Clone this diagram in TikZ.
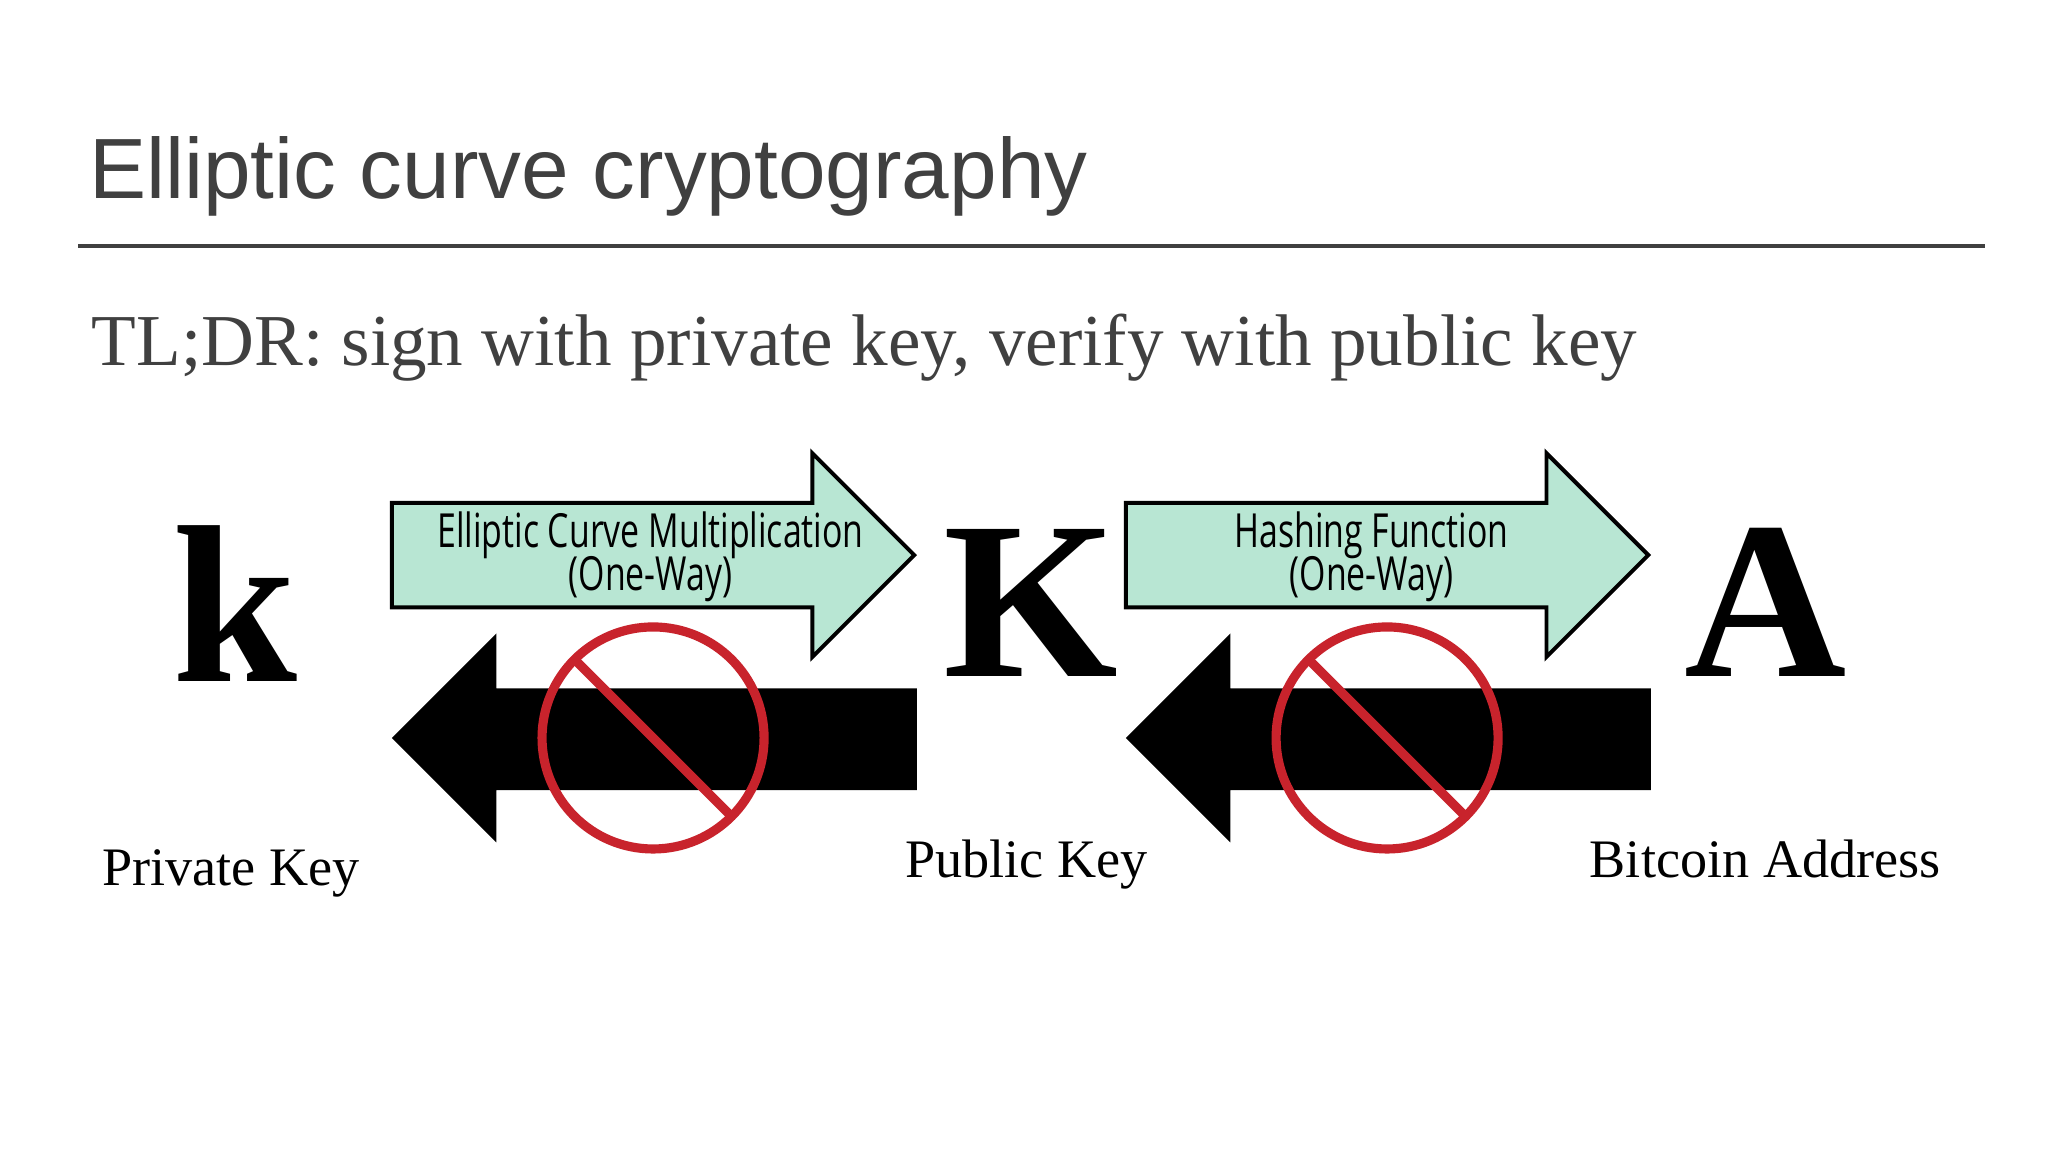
\documentclass[tikz,border=0pt]{standalone}
\usepackage{fontspec}
\setmainfont{Liberation Serif}
\newfontfamily\titlefont{Liberation Sans}
\newfontfamily\arrowfont{Open Sans}
\definecolor{ttl}{HTML}{404040}
\definecolor{mint}{HTML}{B8E6D3}
\definecolor{nored}{HTML}{C8232C}
\begin{document}
\begin{tikzpicture}[x=1pt,y=-1pt,
  bigletter/.style={anchor=base,inner sep=0,font=\bfseries\fontsize{172}{172}\selectfont},
  keylabel/.style={anchor=base west,inner sep=0,font=\fontsize{41.5}{42}\selectfont},
  garrow/.style={fill=mint,draw=black,line width=3pt,line join=miter},
  barrow/.style={fill=black},
  arrowtext/.style={align=center,inner sep=0,font=\arrowfont\fontsize{36}{36}\selectfont},
  nosign/.style={draw=nored,line width=7pt}]
\useasboundingbox (0,0) rectangle (1568,882);
\fill[white] (0,0) rectangle (1568,882);
\node[anchor=base west,inner sep=0,text=ttl,font=\titlefont\fontsize{65.5}{66}\selectfont] (title) at (68,152) {Elliptic curve cryptography};
\draw[ttl,line width=3pt] (60,188) -- (1520,188);
\node[anchor=base west,inner sep=0,text=ttl,font=\fontsize{56}{56}\selectfont] (sub) at (70,280) {TL;DR: sign with private key, verify with public key};
\node[bigletter] (k) at (180,522) {k};
\node[bigletter] (K) at (789,518) {K};
\node[bigletter] (A) at (1352,518) {A};
\foreach \x/\n in {0/one,562/two}{
  \begin{scope}[xshift=\x]
  \draw[garrow] (300,385) -- (622,385) -- (622,347) -- (700,425) -- (622,503) -- (622,465) -- (300,465) -- cycle;
  \fill[barrow] (702,527) -- (380,527) -- (380,485) -- (300,565) -- (380,645) -- (380,605) -- (702,605) -- cycle;
  \draw[nosign] (500,565) circle (85);
  \draw[nosign] (440,505) -- (560,625);
  \end{scope}}
\node[arrowtext] (t1) at (498,426) {\scalebox{0.72}[1]{Elliptic Curve Multiplication}\\[-3pt]\scalebox{0.72}[1]{(One-Way)}};
\node[arrowtext] (t2) at (1050,426) {\scalebox{0.72}[1]{Hashing Function}\\[-3pt]\scalebox{0.72}[1]{(One-Way)}};
\node[keylabel] (pk) at (78,678) {Private Key};
\node[keylabel] (pub) at (693,672) {Public Key};
\node[keylabel] (addr) at (1217,672) {Bitcoin Address};
\end{tikzpicture}
\end{document}
